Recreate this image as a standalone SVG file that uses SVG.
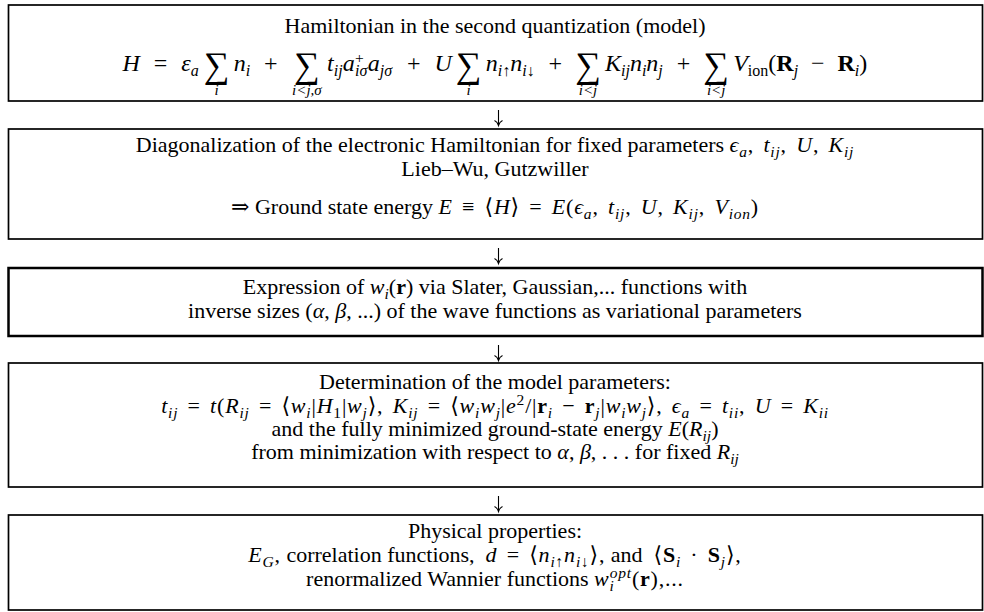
<svg xmlns="http://www.w3.org/2000/svg" width="984" height="612" viewBox="0 0 984 612">
<style>
.box{fill:#fff;stroke:#000;stroke-width:1.7}
.thick{stroke-width:2.5}
text{font-family:"Liberation Serif","DejaVu Serif",serif;font-size:22px;fill:#000}
.c{text-anchor:middle}
.m{letter-spacing:0.8px;word-spacing:3px}
.i{font-style:italic}
.b{font-weight:bold}
.sub{font-size:15.5px;baseline-shift:-5px}
.sup{font-size:15.5px;baseline-shift:8px}
.f{font-size:24px}
.f .sub{font-size:16px}
.sum{font-size:36px;text-anchor:middle}
.lim{font-size:15px;font-style:italic;text-anchor:middle}
.arr{fill:none;stroke:#000;stroke-width:1.1}
</style>
<g id="n1">
<rect class="box" x="8.5" y="5" width="974" height="96"/>
<text class="c" x="495" y="33">Hamiltonian in the second quantization (model)</text>
<text class="f" y="71"><tspan x="122.5" class="i">H</tspan><tspan x="153.8">=</tspan><tspan x="181.3" class="i">ε</tspan><tspan class="sub i">a</tspan><tspan x="233.7" class="i">n</tspan><tspan class="sub i">i</tspan><tspan x="264.1">+</tspan><tspan x="327.1" class="i">t</tspan><tspan class="sub i">ij</tspan><tspan x="342.7" class="i">a</tspan><tspan x="367.8" class="i">a</tspan><tspan class="sub i">jσ</tspan><tspan x="406.9">+</tspan><tspan x="434.4" class="i">U</tspan><tspan x="485.7" class="i">n</tspan><tspan class="sub i">i↑</tspan><tspan class="i">n</tspan><tspan class="sub i">i↓</tspan><tspan x="548.5">+</tspan><tspan x="605" class="i">K</tspan><tspan class="sub i">ij</tspan><tspan class="i">n</tspan><tspan class="sub i">i</tspan><tspan class="i">n</tspan><tspan class="sub i">j</tspan><tspan x="676.7">+</tspan><tspan x="733.2" class="i">V</tspan><tspan class="sub">ion</tspan><tspan>(</tspan><tspan class="b">R</tspan><tspan class="sub i">j</tspan><tspan x="811">−</tspan><tspan x="837.5" class="b">R</tspan><tspan class="sub i">i</tspan><tspan>)</tspan></text>
<text class="f" y="71"><tspan x="355" class="sup">+</tspan></text>
<text class="f" y="71"><tspan x="355" class="sub i">iσ</tspan></text>
<text class="sum" y="77"><tspan x="216.7">∑</tspan><tspan x="306.9">∑</tspan><tspan x="468.7">∑</tspan><tspan x="588">∑</tspan><tspan x="716.2">∑</tspan></text>
<text class="lim" y="95"><tspan x="216.7">i</tspan><tspan x="306.9">i&lt;j,σ</tspan><tspan x="468.7">i</tspan><tspan x="588">i&lt;j</tspan><tspan x="716.2">i&lt;j</tspan></text>
</g>
<g id="n2">
<rect class="box" x="8.5" y="129" width="974" height="110"/>
<text class="c" x="495" y="152">Diagonalization of the electronic Hamiltonian for fixed parameters <tspan class="m"><tspan class="i">ϵ</tspan><tspan class="sub i">a</tspan>, <tspan class="i">t</tspan><tspan class="sub i">ij</tspan>, <tspan class="i">U</tspan>, <tspan class="i">K</tspan><tspan class="sub i">ij</tspan></tspan></text>
<text class="c" x="495" y="176">Lieb–Wu, Gutzwiller</text>
<text class="c" x="495" y="214">⇒ Ground state energy <tspan class="m"><tspan class="i">E</tspan> ≡ ⟨<tspan class="i">H</tspan>⟩ = <tspan class="i">E</tspan>(<tspan class="i">ϵ</tspan><tspan class="sub i">a</tspan>, <tspan class="i">t</tspan><tspan class="sub i">ij</tspan>, <tspan class="i">U</tspan>, <tspan class="i">K</tspan><tspan class="sub i">ij</tspan>, <tspan class="i">V</tspan><tspan class="sub i">ion</tspan>)</tspan></text>
</g>
<g id="n3">
<rect class="box thick" x="8.5" y="268" width="974" height="68"/>
<text class="c" x="495" y="294">Expression of <tspan class="i">w</tspan><tspan class="sub i">i</tspan>(<tspan class="b">r</tspan>) via Slater, Gaussian,... functions with</text>
<text class="c" x="495" y="318">inverse sizes (<tspan class="i">α</tspan>, <tspan class="i">β</tspan>, ...) of the wave functions as variational parameters</text>
</g>
<g id="n4">
<rect class="box" x="8.5" y="363" width="974" height="124"/>
<text class="c" x="495" y="389">Determination of the model parameters:</text>
<text class="c m" x="495" y="413"><tspan class="i">t</tspan><tspan class="sub i">ij</tspan> = <tspan class="i">t</tspan>(<tspan class="i">R</tspan><tspan class="sub i">ij</tspan> = ⟨<tspan class="i">w</tspan><tspan class="sub i">i</tspan>|<tspan class="i">H</tspan><tspan class="sub">1</tspan>|<tspan class="i">w</tspan><tspan class="sub i">j</tspan>⟩, <tspan class="i">K</tspan><tspan class="sub i">ij</tspan> = ⟨<tspan class="i">w</tspan><tspan class="sub i">i</tspan><tspan class="i">w</tspan><tspan class="sub i">j</tspan>|<tspan class="i">e</tspan><tspan class="sup">2</tspan>/|<tspan class="b">r</tspan><tspan class="sub i">i</tspan> − <tspan class="b">r</tspan><tspan class="sub i">j</tspan>|<tspan class="i">w</tspan><tspan class="sub i">i</tspan><tspan class="i">w</tspan><tspan class="sub i">j</tspan>⟩, <tspan class="i">ϵ</tspan><tspan class="sub i">a</tspan> = <tspan class="i">t</tspan><tspan class="sub i">ii</tspan>, <tspan class="i">U</tspan> = <tspan class="i">K</tspan><tspan class="sub i">ii</tspan></text>
<text class="c" x="495" y="436">and the fully minimized ground-state energy <tspan class="i">E</tspan>(<tspan class="i">R</tspan><tspan class="sub i">ij</tspan>)</text>
<text class="c" x="495" y="459">from minimization with respect to <tspan class="i">α</tspan>, <tspan class="i">β</tspan>, . . . for fixed <tspan class="i">R</tspan><tspan class="sub i">ij</tspan></text>
</g>
<g id="n5">
<rect class="box" x="8.5" y="515" width="974" height="95"/>
<text class="c" x="495" y="538">Physical properties:</text>
<text class="c" x="495" y="562"><tspan class="m"><tspan class="i">E</tspan><tspan class="sub i">G</tspan>,</tspan> correlation functions, &#160;<tspan class="m"><tspan class="i">d</tspan> = ⟨<tspan class="i">n</tspan><tspan class="sub i">i↑</tspan><tspan class="i">n</tspan><tspan class="sub i">i↓</tspan>⟩,</tspan> and &#160;<tspan class="m">⟨<tspan class="b">S</tspan><tspan class="sub i">i</tspan> · <tspan class="b">S</tspan><tspan class="sub i">j</tspan>⟩,</tspan></text>
<text class="c" x="495" y="586">renormalized Wannier functions <tspan class="m"><tspan class="i">w</tspan><tspan class="sub i">i</tspan><tspan class="sup i" dx="-5">opt</tspan>(<tspan class="b">r</tspan>),...</tspan></text>
</g>
<g id="connectors">
<path class="arr" d="M498.5 110V125M494.5 120.5Q497.5 122 498.5 125.5Q499.5 122 502.5 120.5"/>
<path class="arr" d="M498.5 248V263M494.5 258.5Q497.5 260 498.5 263.5Q499.5 260 502.5 258.5"/>
<path class="arr" d="M498.5 345V360M494.5 355.5Q497.5 357 498.5 360.5Q499.5 357 502.5 355.5"/>
<path class="arr" d="M498.5 496V511M494.5 506.5Q497.5 508 498.5 511.5Q499.5 508 502.5 506.5"/>
</g>
</svg>
